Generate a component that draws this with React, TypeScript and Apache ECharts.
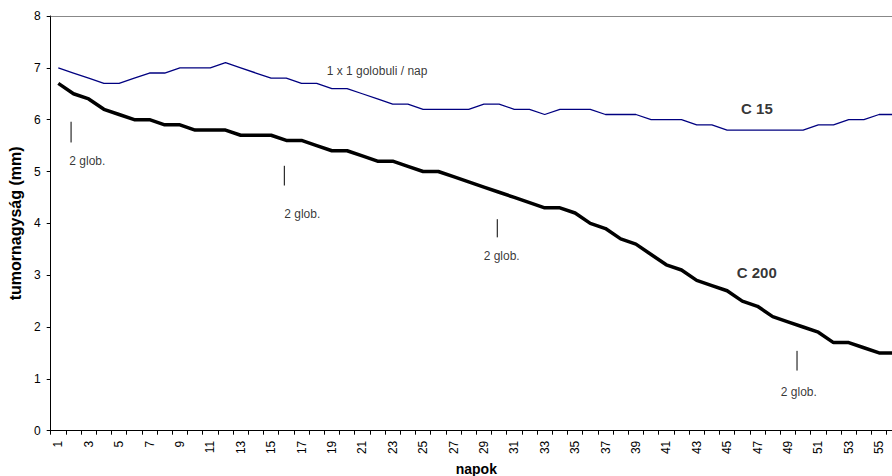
import React, { useEffect, useRef } from "react";
import * as echarts from "echarts";

const days = ["1","2","3","4","5","6","7","8","9","10","11","12","13","14","15","16","17","18","19","20","21","22","23","24","25","26","27","28","29","30","31","32","33","34","35","36","37","38","39","40","41","42","43","44","45","46","47","48","49","50","51","52","53","54","55","56"];

const c15 = [7.0,6.9,6.8,6.7,6.7,6.8,6.9,6.9,7.0,7.0,7.0,7.1,7.0,6.9,6.8,6.8,6.7,6.7,6.6,6.6,6.5,6.4,6.3,6.3,6.2,6.2,6.2,6.2,6.3,6.3,6.2,6.2,6.1,6.2,6.2,6.2,6.1,6.1,6.1,6.0,6.0,6.0,5.9,5.9,5.8,5.8,5.8,5.8,5.8,5.8,5.9,5.9,6.0,6.0,6.1,6.1];

const c200 = [6.7,6.5,6.4,6.2,6.1,6.0,6.0,5.9,5.9,5.8,5.8,5.8,5.7,5.7,5.7,5.6,5.6,5.5,5.4,5.4,5.3,5.2,5.2,5.1,5.0,5.0,4.9,4.8,4.7,4.6,4.5,4.4,4.3,4.3,4.2,4.0,3.9,3.7,3.6,3.4,3.2,3.1,2.9,2.8,2.7,2.5,2.4,2.2,2.1,2.0,1.9,1.7,1.7,1.6,1.5,1.5];

const yTicks = [0, 1, 2, 3, 4, 5, 6, 7, 8];

// annotation marks: x in day units, vertical segment from yTop to yBottom
const annX = [1.84, 15.87, 29.88, 49.6];
const annTop = [5.96, 5.11, 4.08, 1.54];
const annBottom = [5.56, 4.73, 3.73, 1.16];

// annotation texts: [x, y, text, bold]
const notes: [number, number, string, boolean][] = [
  [2.91, 5.21, "2 glob.", false],
  [17.05, 4.18, "2 glob.", false],
  [30.17, 3.37, "2 glob.", false],
  [49.72, 0.74, "2 glob.", false],
  [21.97, 6.93, "1 x 1 golobuli / nap", false],
  [46.96, 6.21, "C 15", true],
  [46.95, 3.05, "C 200", true],
];

const FONT = "'Liberation Sans', Arial, sans-serif";

export default function App() {
  const ref = useRef<HTMLDivElement>(null);
  useEffect(() => {
    if (!ref.current) return;
    const chart = echarts.init(ref.current, null, { renderer: "svg" });
    const annSeries = annX.map((x, i) => ({
      type: "line",
      xAxisIndex: 1,
      data: [[x, annTop[i]], [x, annBottom[i]]],
      symbol: "none",
      silent: true,
      lineStyle: { color: "#000", width: 1 },
      z: 5,
    }));
    chart.setOption({
      animation: false,
      textStyle: { fontFamily: FONT },
      grid: { left: 50.7, top: 16, width: 851.2, height: 414.7, containLabel: false, outerBoundsMode: "none" },
      xAxis: [
        {
          type: "category",
          data: days,
          boundaryGap: true,
          name: "napok",
          nameLocation: "middle",
          nameGap: 29,
          nameTextStyle: { fontFamily: FONT, fontSize: 14, lineHeight: 14, fontWeight: "bold", color: "#000" },
          axisLine: { lineStyle: { color: "#000", width: 1 } },
          axisTick: { show: true, interval: 0, length: 4, lineStyle: { color: "#000" } },
          axisLabel: { interval: 1, rotate: 90, margin: 10, fontSize: 12, color: "#000", fontFamily: FONT },
          splitLine: { show: false },
        },
        {
          type: "value",
          min: 0.5,
          max: 56.5,
          position: "top",
          axisLine: { show: true, onZero: false, lineStyle: { color: "#888", width: 1 } },
          axisTick: { show: false },
          axisLabel: { show: false },
          splitLine: { show: false },
        },
      ],
      yAxis: {
        type: "value",
        min: 0,
        max: 8,
        interval: 1,
        name: "tumornagyság (mm)",
        nameLocation: "middle",
        nameGap: 25,
        nameTextStyle: { fontFamily: FONT, fontSize: 16, fontWeight: "bold", color: "#000" },
        axisLine: { show: true, lineStyle: { color: "#000", width: 1 } },
        axisTick: { show: true, length: 4, lineStyle: { color: "#000" } },
        axisLabel: {
          margin: 10,
          fontSize: 12,
          color: "#000",
          fontFamily: FONT,
          formatter: (v: number) => (yTicks.includes(v) ? String(v) : ""),
        },
        splitLine: { show: false },
      },
      series: [
        {
          name: "C 15",
          type: "line",
          data: c15,
          symbol: "none",
          lineStyle: { color: "#000080", width: 1.3 },
          z: 3,
        },
        {
          name: "C 200",
          type: "line",
          data: c200,
          symbol: "none",
          lineStyle: { color: "#000", width: 3.5 },
          z: 4,
        },
        ...annSeries,
        {
          type: "scatter",
          xAxisIndex: 1,
          symbolSize: 0,
          silent: true,
          data: notes.map(([x, y, t, b]) => ({
            value: [x, y],
            name: t,
            label: {
              show: true,
              position: "inside",
              formatter: t,
              fontFamily: FONT,
              fontSize: b ? 15 : 12,
              fontWeight: b ? "bold" : "normal",
              color: "#000",
            },
          })),
          z: 6,
        },
      ],
    });
    return () => chart.dispose();
  }, []);
  return (
    <div style={{ position: "fixed", left: 0, top: 0, width: 892, height: 476, background: "#fff", overflow: "hidden" }}>
      <div ref={ref} style={{ position: "absolute", left: 0, top: 0, width: 920, height: 476 }} />
    </div>
  );
}
